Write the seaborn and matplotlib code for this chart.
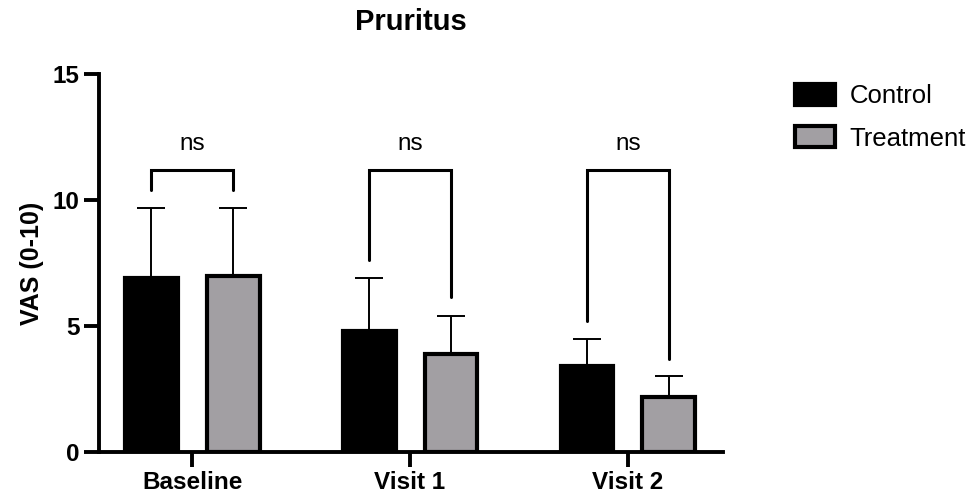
import matplotlib
matplotlib.use("Agg")
import matplotlib.pyplot as plt
import seaborn as sns
import pandas as pd
import numpy as np

visits = ["Baseline", "Visit 1", "Visit 2"]
groups = ["Control", "Treatment"]
control_mean = [6.9, 4.8, 3.4]
treatment_mean = [7.0, 3.9, 2.2]
control_err = [2.8, 2.1, 1.1]
treatment_err = [2.7, 1.5, 0.8]
sig_labels = ["ns", "ns", "ns"]
bracket_top = [11.2, 11.2, 11.2]
bracket_left_end = [10.4, 7.6, 5.2]
bracket_right_end = [10.4, 6.15, 3.7]
yticks = [0, 5, 10, 15]

sns.set_theme(style="ticks")
plt.rcParams['font.family'] = ['Liberation Sans', 'DejaVu Sans']
plt.rcParams['text.color'] = 'black'
plt.rcParams['axes.labelcolor'] = 'black'
plt.rcParams['xtick.color'] = 'black'
plt.rcParams['ytick.color'] = 'black'

df = pd.DataFrame({
    "visit": visits * 2,
    "group": [groups[0]] * 3 + [groups[1]] * 3,
    "mean": control_mean + treatment_mean,
})

fig = plt.figure(figsize=(9.77, 5.01), dpi=100)
ax = fig.add_axes([99/977, 1-452/501, (723-99)/977, (452-74)/501])

sns.barplot(data=df, x="visit", y="mean", hue="group", order=visits, hue_order=groups,
            palette=["#000000", "#a29ea4"], width=0.752, gap=0.354,
            edgecolor="black", linewidth=3.0, errorbar=None, ax=ax, zorder=3)

bars = [p for p in ax.patches if p.get_height() > 0][:6]
centers = [p.get_x() + p.get_width() / 2 for p in bars]
ctrl_x = centers[:3]
trt_x = centers[3:6]

ax.errorbar(ctrl_x, control_mean, yerr=[np.zeros(3), control_err], fmt='none',
            ecolor='black', elinewidth=1.4, capsize=10, capthick=1.4, zorder=2)
ax.errorbar(trt_x, treatment_mean, yerr=[np.zeros(3), treatment_err], fmt='none',
            ecolor='black', elinewidth=1.4, capsize=10, capthick=1.4, zorder=2)

for i in range(3):
    ax.plot([ctrl_x[i], ctrl_x[i], trt_x[i], trt_x[i]],
            [bracket_left_end[i], bracket_top[i], bracket_top[i], bracket_right_end[i]],
            color='black', lw=2.2, solid_joinstyle='miter', zorder=4)
    ax.text((ctrl_x[i] + trt_x[i]) / 2, bracket_top[i] + 0.6, sig_labels[i],
            ha='center', va='bottom', fontsize=17.5, color='black')

ax.set_xlim(-0.427, 2.436)
ax.set_ylim(0, 15)
ax.set_yticks(yticks)
ax.set_yticklabels([str(t) for t in yticks], fontsize=17.5, fontweight='bold')
ax.set_xticks(range(3))
ax.set_xticklabels(visits, fontsize=17.5, fontweight='bold')
ax.set_xlabel("")
ax.set_ylabel("VAS (0-10)", fontsize=18, fontweight='bold', labelpad=6, color='black')
for s in ["top", "right"]:
    ax.spines[s].set_visible(False)
for s in ["left", "bottom"]:
    ax.spines[s].set_linewidth(2.8)
    ax.spines[s].set_color('black')
ax.tick_params(axis='both', length=11, width=2.8, color='black', pad=3, labelcolor='black')
ax.set_facecolor('white')

ax.legend_.remove()
handles, labels = ax.get_legend_handles_labels()
leg = fig.legend(handles, labels, loc='upper left', bbox_to_anchor=(795/977, 1-84/501),
                 frameon=False, fontsize=18.5, handlelength=1.55, handleheight=0.86,
                 handletextpad=0.58, labelspacing=0.71, borderpad=0, borderaxespad=0)
for t in leg.get_texts():
    t.set_color('black')

fig.text(411/977, 1-22/501, "Pruritus", ha='center', va='center', fontsize=21,
         fontweight='bold', color='black')

fig.savefig("out.png", dpi=100, facecolor='white')
